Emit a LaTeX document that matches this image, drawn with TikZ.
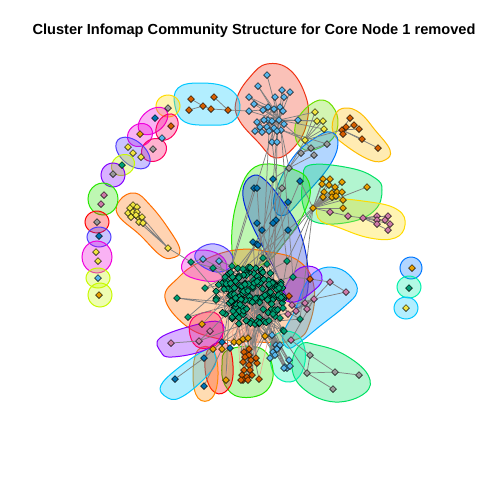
\documentclass[tikz,border=0pt]{standalone}
\usepackage{fontspec}
\setmainfont{Liberation Sans}
\usetikzlibrary{shapes.geometric,positioning}
\pgfdeclarelayer{bg}
\pgfdeclarelayer{hulls}
\pgfdeclarelayer{links}
\pgfsetlayers{bg,hulls,links,main}

% vertex colours
\definecolor{vTeal}{RGB}{0,158,115}
\definecolor{vOrange}{RGB}{230,159,0}
\definecolor{vVerm}{RGB}{213,94,0}
\definecolor{vSky}{RGB}{86,180,233}
\definecolor{vYellow}{RGB}{240,228,66}
\definecolor{vBlue}{RGB}{0,114,178}
\definecolor{vPink}{RGB}{204,121,167}
\definecolor{vGrey}{RGB}{153,153,153}
\definecolor{eSalmon}{RGB}{245,165,140}
% hull colours
\definecolor{hRed}{RGB}{240,50,20}
\definecolor{hCyan}{RGB}{0,200,255}
\definecolor{hLime}{RGB}{110,225,0}
\definecolor{hGold}{RGB}{255,190,0}
\definecolor{hAzure}{RGB}{0,120,255}
\definecolor{hMint}{RGB}{0,225,100}
\definecolor{hYellow}{RGB}{255,220,0}
\definecolor{hGreen}{RGB}{40,230,0}
\definecolor{hBlue}{RGB}{0,40,220}
\definecolor{hPeach}{RGB}{255,110,0}
\definecolor{hSky}{RGB}{0,170,255}
\definecolor{hViolet}{RGB}{130,0,255}
\definecolor{hSea}{RGB}{0,240,170}
\definecolor{hCrimson}{RGB}{255,0,100}
\definecolor{hOrange}{RGB}{255,140,0}
\definecolor{hMagenta}{RGB}{240,0,220}
\definecolor{hPurple}{RGB}{80,60,255}
\definecolor{hChart}{RGB}{200,250,0}

\tikzset{
  vtx/.style={diamond, draw=black, line width=0.5pt, inner sep=0pt, minimum size=7pt},
  lnk/.style={draw=gray, line width=0.75pt},
  lnkb/.style={draw=eSalmon, line width=0.6pt},
  hull/.style={draw=#1, fill=#1, fill opacity=0.3, line width=1pt},
}
\newcommand{\hullblob}[6]{%
  \draw[hull=#1] plot[smooth cycle, domain=0:345, samples=24, variable=\t]
    ({#2+#4*cos(\t)*cos(#6)-#5*sin(\t)*sin(#6)},{#3+#4*cos(\t)*sin(#6)+#5*sin(\t)*cos(#6)});}

\begin{document}
\begin{tikzpicture}[x=1pt, y=-1pt]
  \useasboundingbox (0,0) rectangle (480,480);
  \begin{pgfonlayer}{bg}
    \fill[white] (0,0) rectangle (480,480);
  \end{pgfonlayer}

  % title
  \node[font=\bfseries\fontsize{14.6}{17}\selectfont] (title) at (254,31)
    {Cluster Infomap Community Structure for Core Node 1 removed};

  % community hulls
  \begin{pgfonlayer}{hulls}
    \draw[hull=hRed] plot[smooth cycle, tension=0.7] coordinates {(267,64) (290,70) (306,97) (307,122) (296,145) (276,158) (258,142) (238,118) (237,98) (250,77)};
    \draw[hull=hCyan] plot[smooth cycle, tension=0.7] coordinates {(178,88) (200,83) (228,88) (240,105) (232,122) (210,125) (185,122) (175,106)};
    \draw[hull=hLime] plot[smooth cycle, tension=0.7] coordinates {(320,100) (335,110) (337,130) (325,145) (305,150) (295,135) (300,115)};
    \draw[hull=hGold] plot[smooth cycle, tension=0.7] coordinates {(345,108) (360,113) (375,130) (390,150) (385,160) (370,160) (345,145) (333,132) (335,115)};
    \draw[hull=hAzure] plot[smooth cycle, tension=0.7] coordinates {(330,132) (338,142) (330,165) (305,195) (285,215) (274,208) (278,185) (295,155) (315,138)};
    \draw[hull=hMint] plot[smooth cycle, tension=0.7] coordinates {(310,165) (350,168) (375,178) (382,190) (375,210) (350,222) (315,222) (303,205) (303,180)};
    \draw[hull=hYellow] plot[smooth cycle, tension=0.7] coordinates {(325,200) (370,202) (398,210) (405,225) (395,238) (370,238) (340,228) (318,218)};
    \draw[hull=hGreen] plot[smooth cycle, tension=0.7] coordinates {(255,167) (295,170) (310,187) (303,215) (285,242) (265,263) (240,267) (232,250) (236,205)};
    \draw[hull=hBlue] plot[smooth cycle, tension=0.7] coordinates {(252,176) (265,180) (285,205) (300,232) (308,270) (305,300) (292,305) (275,270) (262,245) (248,215) (243,190)};
    \draw[hull=hPeach] plot[smooth cycle, tension=0.7] coordinates {(165,298) (178,278) (200,262) (235,250) (270,252) (300,262) (314,287) (310,322) (295,340) (255,342) (215,338) (185,325)};
    \draw[hull=hSky] plot[smooth cycle, tension=0.7] coordinates {(318,270) (337,268) (352,278) (357,292) (345,306) (320,326) (300,342) (288,348) (283,335) (295,310) (305,285)};
    \draw[hull=hViolet] plot[smooth cycle, tension=0.7] coordinates {(300,268) (316,268) (322,280) (312,292) (295,302) (283,297) (288,282)};
    \draw[hull=hMint] plot[smooth cycle, tension=0.7] coordinates {(300,345) (317,345) (345,355) (368,375) (365,393) (335,402) (305,390) (292,368)};
    \draw[hull=hSea] plot[smooth cycle, tension=0.7] coordinates {(275,335) (295,333) (305,350) (302,372) (290,382) (275,375) (270,355)};
    \draw[hull=hGreen] plot[smooth cycle, tension=0.7] coordinates {(228,350) (260,348) (273,370) (265,392) (240,397) (225,385) (222,365)};
    \draw[hull=red] plot[smooth cycle, tension=0.7] coordinates {(210,347) (228,345) (233,375) (225,392) (212,390) (205,368)};
    \draw[hull=hOrange] plot[smooth cycle, tension=0.7] coordinates {(198,350) (213,350) (218,375) (212,398) (198,398) (193,375)};
    \draw[hull=hCyan] plot[smooth cycle, tension=0.7] coordinates {(163,382) (205,350) (215,355) (212,370) (185,395) (168,398)};
    \draw[hull=hViolet] plot[smooth cycle, tension=0.7] coordinates {(160,338) (195,325) (220,322) (222,335) (205,350) (172,357) (161,352)};
    \draw[hull=hCrimson] plot[smooth cycle, tension=0.7] coordinates {(193,318) (212,312) (222,322) (220,342) (200,348) (190,335)};
    \draw[hull=hMagenta] plot[smooth cycle, tension=0.7] coordinates {(185,258) (200,250) (220,255) (227,268) (220,280) (200,280) (183,272)};
    \draw[hull=hPurple] plot[smooth cycle, tension=0.7] coordinates {(200,248) (215,244) (230,252) (232,265) (220,272) (205,268) (195,258)};
    \draw[hull=hPeach] plot[smooth cycle, tension=0.7] coordinates {(120,200) (135,193) (150,205) (168,228) (180,250) (172,258) (160,255) (140,235) (118,215)};
    % left chain and isolated vertices
    \hullblob{hYellow}{168}{106}{12}{11}{0}
    \hullblob{hMagenta}{153}{121}{17}{11}{-40}
    \hullblob{hCrimson}{167}{127}{14}{10}{-60}
    \hullblob{hMagenta}{140}{135}{13}{11}{-30}
    \hullblob{hCrimson}{154}{150}{13}{11}{-30}
    \hullblob{hPurple}{133}{153}{20}{12}{40}
    \hullblob{hChart}{123}{165}{12}{10}{-30}
    \hullblob{hViolet}{113}{175}{12}{12}{0}
    \hullblob{hGreen}{103}{199}{15}{16}{0}
    \hullblob{red}{97}{222}{12}{11}{0}
    \hullblob{hPurple}{99}{237}{12}{10}{0}
    \hullblob{hMagenta}{97}{257}{15}{16}{0}
    \hullblob{hChart}{98}{278}{12}{10}{0}
    \hullblob{hChart}{100}{295}{12}{12}{0}
    \hullblob{hAzure}{411}{268}{11}{11}{0}
    \hullblob{hSea}{409}{287}{12}{11}{0}
    \hullblob{hCyan}{406}{308}{12}{11}{0}
  \end{pgfonlayer}

  % vertices
  \foreach \x/\y [count=\i] in {267/75, 258/86, 282/90, 290/92, 249/97, 275/97, 284/97, 254/104, 268/107, 280/107, 249/111, 263/110, 274/109, 283/111, 298/120, 268/120, 264/120, 272/121, 279/120, 257/122, 284/124, 260/127, 267/127, 274/128, 281/130, 255/131, 262/132, 269/131, 277/131, 272/142, 277/142}
    \node[vtx, fill=vSky] (sb\i) at (\x,\y) {};
  \foreach \x/\y [count=\i] in {191/99, 214/97, 203/106, 211/109, 189/110, 228/110}
    \node[vtx, fill=vVerm] (cb\i) at (\x,\y) {};
  \foreach \x/\y [count=\i] in {315/112, 317/121, 323/121, 324/129, 305/140}
    \node[vtx, fill=vYellow] (yc\i) at (\x,\y) {};
  \foreach \x/\y [count=\i] in {350/118, 354/125, 359/129, 342/130, 343/134, 362/139, 378/148, 346/127}
    \node[vtx, fill=vVerm] (vd\i) at (\x,\y) {};
  \foreach \x/\y [count=\i] in {327/144, 311/148, 314/155, 301/153, 289/168, 282/188}
    \node[vtx, fill=vGrey] (ge\i) at (\x,\y) {};
  \foreach \x/\y [count=\i] in {323/179, 330/179, 322/184, 342/182, 329/185, 335/187, 324/192, 332/193, 337/192, 342/192, 323/197, 332/197, 336/196, 343/200, 367/187, 313/208, 343/208}
    \node[vtx, fill=vOrange] (of\i) at (\x,\y) {};
  \foreach \x/\y [count=\i] in {330/212, 348/216, 363/218, 377/216, 388/216, 377/220, 385/220, 390/224, 377/224, 388/230}
    \node[vtx, fill=vPink] (pg\i) at (\x,\y) {};
  \foreach \x/\y [count=\i] in {273/179, 254/188, 257/188, 288/202, 300/181, 276/220, 273/223, 257/223, 262/230, 288/230, 253/242, 257/244, 258/245}
    \node[vtx, fill=vBlue] (db\i) at (\x,\y) {};

  % main cluster
  \pgfmathsetseed{4242}
  \foreach \i in {1,...,165}{
    \pgfmathsetmacro\rr{35*sqrt(rnd)}
    \pgfmathsetmacro\aa{360*rnd}
    \node[vtx, fill=vTeal] (tl\i) at ({250+\rr*cos(\aa)},{296+0.85*\rr*sin(\aa)}) {};
  }
  \foreach \x/\y [count=\i] in {177/298, 191/262, 232/266, 267/264, 287/261, 293/277, 283/308, 283/330, 300/319, 188/317, 205/288, 284/331, 243/269, 273/314, 280/318, 213/268, 263/258, 216/300}
    \node[vtx, fill=vTeal] (tx\i) at (\x,\y) {};
  \foreach \x/\y [count=\i] in {202/324, 234/342, 239/342, 243/339, 248/338, 265/336, 213/349, 222/349, 226/380}
    \node[vtx, fill=vOrange] (oc\i) at (\x,\y) {};
  \foreach \x/\y [count=\i] in {222/342, 230/348, 204/358, 204/386, 175/379}
    \node[vtx, fill=vBlue] (bc\i) at (\x,\y) {};
  \foreach \x/\y [count=\i] in {171/343, 199/341, 210/331}
    \node[vtx, fill=vPink] (pc\i) at (\x,\y) {};
  \foreach \x/\y [count=\i] in {203/259, 219/261}
    \node[vtx, fill=vSky] (sv\i) at (\x,\y) {};
  \foreach \x/\y [count=\i] in {244/352, 249/355, 245/357, 251/360, 243/362, 257/363, 249/365, 244/370, 250/370, 242/375, 247/377, 252/375, 243/380, 248/380, 241/380, 259/379, 256/358, 249/349}
    \node[vtx, fill=vVerm] (vp\i) at (\x,\y) {};
  \foreach \x/\y [count=\i] in {272/335, 276/345, 278/347, 273/352, 275/355, 270/358, 285/367, 287/368, 290/366, 284/368, 289/360, 277/349, 280/345}
    \node[vtx, fill=vSky] (sl\i) at (\x,\y) {};
  \foreach \x/\y [count=\i] in {310/355, 307/373, 335/372, 359/375, 333/389}
    \node[vtx, fill=vGrey] (gn\i) at (\x,\y) {};
  \foreach \x/\y [count=\i] in {330/282, 346/292, 314/299, 305/303, 307/309, 296/311, 288/314, 291/340, 292/305}
    \node[vtx, fill=vPink] (pr\i) at (\x,\y) {};
  \node[vtx, fill=vVerm] (vr1) at (310,279) {};
  \node[vtx, fill=vVerm] (vr2) at (289,296) {};

  % left side
  \foreach \x/\y [count=\i] in {133/205, 137/207, 130/208, 128/213, 133/212, 137/212, 131/217, 138/217, 142/217, 139/222, 143/223, 136/215, 168/248}
    \node[vtx, fill=vYellow] (yl\i) at (\x,\y) {};
  \foreach \x/\y/\c [count=\i] in {168/108/vGrey, 155/118/vBlue, 171/126/vVerm, 162/138/vSky, 140/134/vOrange, 153/149/vGrey, 128/147/vYellow, 133/153/vYellow, 141/157/vYellow, 122/165/vTeal, 113/174/vGrey, 104/195/vPink, 101/204/vPink, 97/222/vGrey, 99/236/vBlue, 96/252/vYellow, 98/261/vYellow, 98/278/vSky, 99/295/vOrange}
    \node[vtx, fill=\c] (lc\i) at (\x,\y) {};
  \node[vtx, fill=vOrange] (ri1) at (412,268) {};
  \node[vtx, fill=vTeal] (ri2) at (409,288) {};
  \node[vtx, fill=vYellow] (ri3) at (406,308) {};

  % links
  \begin{pgfonlayer}{links}
    \foreach \i in {1,...,31} \draw[lnk] (sb\i) -- (sb19);
    \foreach \i in {2,5,8,11,20,26,30} \draw[lnk] (sb\i) -- (sb13);
    \draw[lnk] (cb1) -- (cb3) (cb5) -- (cb3) (cb3) -- (cb4) (cb4) -- (cb6) (cb2) -- (cb6) (cb6) -- (sb11);
    \foreach \i in {1,...,4} \draw[lnk] (yc\i) -- (sb19) (yc\i) -- (yc5);
    \foreach \i in {1,...,8} \draw[lnk] (vd\i) -- (vd4);
    \draw[lnk] (vd4) -- (yc5) (yc5) -- (ge5) (yc5) -- (sb25);
    \draw[lnk] (ge1) -- (ge4) (ge2) -- (ge4) (ge3) -- (ge5) (ge4) -- (ge5) (ge5) -- (ge6) (ge5) -- (sb19) (ge2) -- (sb19) (ge1) -- (sb25);
    \foreach \i in {1,...,17} \draw[lnk] (of\i) -- (of16);
    \foreach \i in {3,...,10} \draw[lnk] (pg\i) -- (pg3);
    \draw[lnk] (pg1) -- (of16) (pg2) -- (of16) (pg2) -- (pg3) (pg1) -- (pg2);
    \foreach \i in {1,...,13}{
      \pgfmathtruncatemacro\j{mod(\i*17,165)+1}
      \draw[lnk] (db\i) -- (tl\j);
    }
    \foreach \i/\j in {29/4, 30/5, 31/14, 25/6, 24/3, 28/17}
      \draw[lnk] (sb\i) -- (tx\j);
    \foreach \j in {5,6,9,13,4}
      \draw[lnk] (of16) -- (tx\j);
    \draw[lnk] (ge6) -- (tx4) (ge6) -- (tx13) (ge5) -- (db1) (db5) -- (of16);
    % dense core
    \foreach \i in {1,...,165}{
      \pgfmathtruncatemacro\j{mod(\i*37+11,165)+1}
      \pgfmathtruncatemacro\k{mod(\i*53+29,165)+1}
      \pgfmathtruncatemacro\m{mod(\i*71+5,165)+1}
      \draw[lnk] (tl\i) -- (tl\j) (tl\i) -- (tl\k) (tl\i) -- (tl\m);
    }
    \foreach \i in {1,...,18}{
      \pgfmathtruncatemacro\j{mod(\i*29,165)+1}
      \pgfmathtruncatemacro\k{mod(\i*43+9,165)+1}
      \draw[lnk] (tx\i) -- (tl\j) (tx\i) -- (tl\k);
    }
    \foreach \i in {1,...,9}{
      \pgfmathtruncatemacro\j{mod(\i*23+7,165)+1}
      \pgfmathtruncatemacro\k{mod(\i*47+2,165)+1}
      \draw[lnk] (oc\i) -- (tl\j);
      \draw[lnkb] (oc\i) -- (tl\k);
    }
    \foreach \i in {1,...,18}{
      \pgfmathtruncatemacro\j{mod(\i*31+3,165)+1}
      \pgfmathtruncatemacro\k{mod(\i*59+13,165)+1}
      \draw[lnk] (vp\i) -- (tl\j);
      \draw[lnkb] (vp\i) -- (tl\k);
    }
    \foreach \i in {1,...,13}{
      \pgfmathtruncatemacro\j{mod(\i*41+5,165)+1}
      \draw[lnk] (sl\i) -- (tl\j) (sl\i) -- (sl1);
    }
    \draw[lnk] (bc5) -- (bc3) (bc3) -- (bc1) (bc4) -- (oc8) (bc1) -- (tl5) (bc2) -- (tl9);
    \draw[lnk] (pc1) -- (pc2) (pc2) -- (pc3) (pc3) -- (tl12) (pc2) -- (tl30);
    \draw[lnk] (sv1) -- (tx2) (sv2) -- (tx3) (sv1) -- (tl20) (sv2) -- (tl40);
    \draw[lnk] (gn1) -- (gn2) (gn1) -- (gn3) (gn2) -- (gn3) (gn3) -- (gn4) (gn2) -- (gn5) (gn1) -- (pr8) (gn2) -- (tl60);
    \foreach \i in {1,2,4,5,6,7,8,9} \draw[lnk] (pr\i) -- (pr3);
    \draw[lnk] (pr1) -- (pr2) (pr1) -- (vr1) (vr2) -- (pr9) (pr6) -- (tl70) (pr7) -- (tl80) (vr1) -- (tx6);
    \foreach \i in {1,...,11} \draw[lnk] (yl\i) -- (yl12);
    \draw[lnk] (yl9) -- (yl13) (yl10) -- (yl13) (yl11) -- (yl13) (yl13) -- (tx2);
  \end{pgfonlayer}
\end{tikzpicture}
\end{document}
